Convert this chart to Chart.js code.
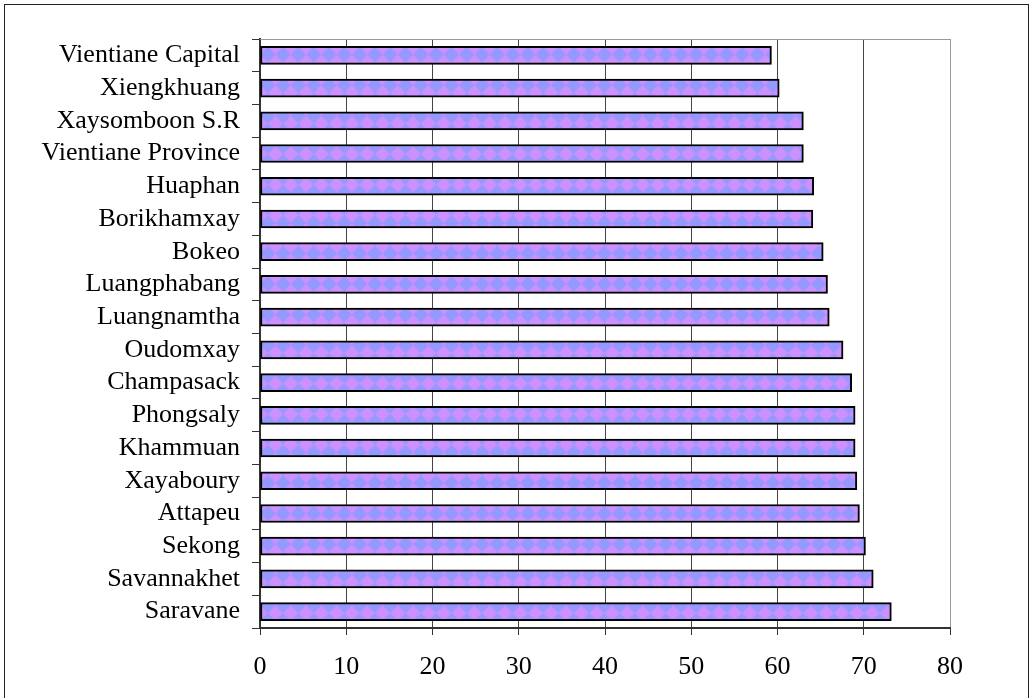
<!DOCTYPE html>
<html>
<head>
<meta charset="utf-8">
<script src="https://cdn.jsdelivr.net/npm/chart.js@4"></script>
<style>
  html, body { margin: 0; padding: 0; background: #fff; }
  #wrap { width: 1032px; height: 698px; }
</style>
</head>
<body>
<div id="wrap"><canvas id="myChart" width="1032" height="698"></canvas></div>
<script>
var provinces = ['Vientiane Capital', 'Xiengkhuang', 'Xaysomboon S.R', 'Vientiane Province',
  'Huaphan', 'Borikhamxay', 'Bokeo', 'Luangphabang', 'Luangnamtha', 'Oudomxay',
  'Champasack', 'Phongsaly', 'Khammuan', 'Xayaboury', 'Attapeu', 'Sekong',
  'Savannakhet', 'Saravane']
var values = [59.3, 60.2, 63.0, 63.0, 64.2, 64.1, 65.3, 65.8, 66.0, 67.6,
  68.6, 69.0, 69.0, 69.2, 69.5, 70.2, 71.1, 73.2]
var xTicks = [0, 10, 20, 30, 40, 50, 60, 70, 80]

// diamond fill for the bars
function diamondPattern(ctx) {
  var t = document.createElement('canvas')
  t.width = 16
  t.height = 16
  var c = t.getContext('2d')
  c.fillStyle = '#cc90ff'
  c.fillRect(0, 0, 16, 16)
  c.fillStyle = '#9598ff'
  c.beginPath()
  c.moveTo(8, 0)
  c.lineTo(16, 8)
  c.lineTo(8, 16)
  c.lineTo(0, 8)
  c.closePath()
  c.fill()
  var p = ctx.createPattern(t, 'repeat')
  p.setTransform(new DOMMatrix().translate(0, 1).scale(15.3 / 16))
  return p
}

var frame = {
  id: 'frame',
  afterDraw: function (chart) {
    var c = chart.ctx
    var a = chart.chartArea
    c.save()
    c.strokeStyle = '#999'
    c.lineWidth = 1
    c.beginPath()
    c.moveTo(a.left, a.top + 0.5)
    c.lineTo(a.right, a.top + 0.5)
    c.stroke()
    c.strokeStyle = '#222'
    c.strokeRect(4.5, 4.5, 1024, 700)
    c.restore()
  }
}

Chart.defaults.font.family = 'Liberation Serif'
Chart.defaults.font.size = 26
Chart.defaults.color = '#000'

var ctx = document.getElementById('myChart').getContext('2d')
var myChart = new Chart(ctx, {
  type: 'bar',
  data: {
    labels: provinces,
    datasets: [{
      data: values,
      backgroundColor: diamondPattern(ctx),
      borderColor: '#000',
      borderWidth: 2,
      borderSkipped: false,
      barThickness: 18
    }]
  },
  options: {
    indexAxis: 'y',
    responsive: false,
    animation: false,
    layout: { padding: { top: 39, right: 82, left: 0, bottom: 0 } },
    plugins: { legend: { display: false }, tooltip: { enabled: false } },
    scales: {
      x: {
        min: 0,
        max: 80,
        afterBuildTicks: function (scale) {
          scale.ticks = xTicks.map(function (v) { return { value: v } })
        },
        afterFit: function (scale) { scale.height = 70 },
        grid: {
          color: function (c) { return c.tick && c.tick.value === 80 ? '#999' : '#444' },
          tickColor: '#333',
          tickLength: 7,
          lineWidth: 1
        },
        border: { color: '#333', width: 2 },
        ticks: { padding: 17, maxRotation: 0 }
      },
      y: {
        afterFit: function (scale) { scale.width = 260 },
        grid: {
          offset: true,
          drawOnChartArea: false,
          tickLength: 8,
          color: '#333'
        },
        border: { color: '#333', width: 2 },
        ticks: { padding: 12, autoSkip: false }
      }
    }
  },
  plugins: [frame]
})
</script>
</body>
</html>
